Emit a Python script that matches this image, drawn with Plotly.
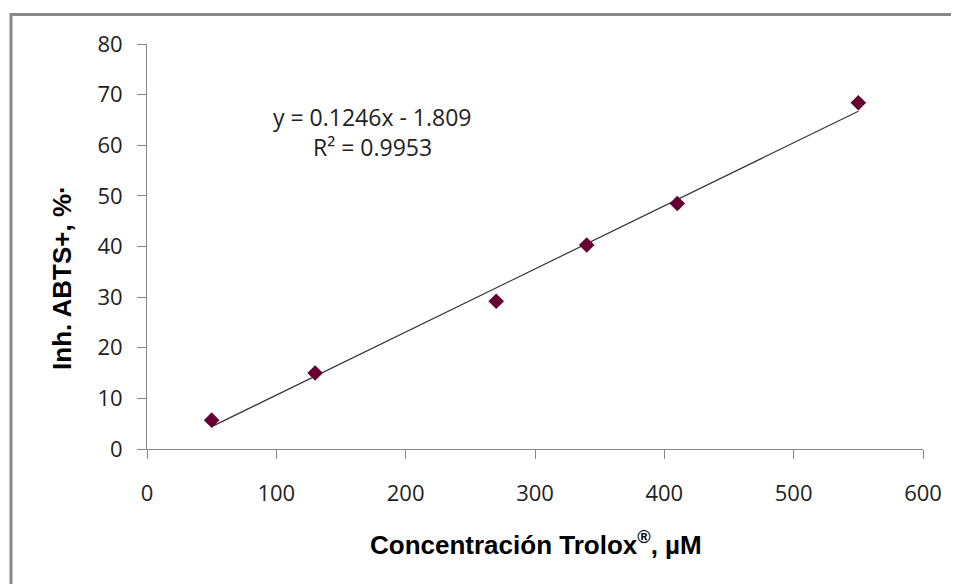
import plotly.graph_objects as go

# Data
trolox_uM = [50, 130, 270, 340, 410, 550]
inhibition_pct = [5.7, 15.0, 29.2, 40.3, 48.5, 68.4]
slope = 0.1246
intercept = -1.809
r_squared = 0.9953
x_ticks = [0, 100, 200, 300, 400, 500, 600]
y_ticks = [0, 10, 20, 30, 40, 50, 60, 70, 80]

trend_x = [min(trolox_uM), max(trolox_uM)]
trend_y = [slope * v + intercept for v in trend_x]

fig = go.Figure()
fig.add_trace(go.Scatter(
    x=trend_x, y=trend_y, mode="lines",
    line=dict(color="#333333", width=1.2), hoverinfo="skip", showlegend=False))
fig.add_trace(go.Scatter(
    x=trolox_uM, y=inhibition_pct, mode="markers",
    marker=dict(symbol="diamond", size=12, color="#660033"), showlegend=False))

tick_font = dict(family="Open Sans", size=22, color="#222222")
axis_line = "#868686"

fig.update_xaxes(range=[0, 600], tickvals=x_ticks, showgrid=False, zeroline=False,
                 showline=True, linecolor=axis_line, linewidth=1,
                 ticks="outside", ticklen=9, tickcolor=axis_line,
                 tickfont=tick_font, ticklabelstandoff=16)
fig.update_yaxes(range=[0, 80], tickvals=y_ticks, showgrid=False, zeroline=False,
                 showline=True, linecolor=axis_line, linewidth=1,
                 ticks="outside", ticklen=9, tickcolor=axis_line,
                 tickfont=tick_font, ticklabelstandoff=10)

OFF = 8  # page body margin
W, H = 959 - OFF, 584 - OFF
L, T = 147 - OFF, 43.5 - OFF
R = W - (923 - OFF)
B = H - (449.5 - OFF)
pw, ph = W - L - R, H - T - B

def px_x(p):
    return (p - OFF - L) / pw

def px_y(p):
    return (H - B - (p - OFF)) / ph

title_font = dict(family="Liberation Sans", size=26, color="#000000")
eq_font = dict(family="Open Sans", size=23, color="#222222")
fig.update_layout(
    width=W, height=H, margin=dict(l=L, r=R, t=T, b=B),
    paper_bgcolor="white", plot_bgcolor="white",
    shapes=[dict(type="rect", xref="paper", yref="paper",
                 x0=px_x(11), x1=px_x(1100), y0=px_y(700), y1=px_y(14),
                 line=dict(color="#888888", width=3), fillcolor="rgba(0,0,0,0)")],
    annotations=[
        dict(text="<b>Concentración Trolox<sup>®</sup>, µM</b>", xref="paper", yref="paper",
             x=px_x(536), y=px_y(544), showarrow=False, font=title_font,
             xanchor="center", yanchor="middle"),
        dict(text="<b>Inh. ABTS+, %·</b>", xref="paper", yref="paper",
             x=px_x(62), y=px_y(278), showarrow=False, font=title_font, textangle=-90,
             xanchor="center", yanchor="middle"),
        dict(text=f"y = {slope}x - {abs(intercept)}", xref="paper", yref="paper",
             x=px_x(372), y=px_y(117), showarrow=False, font=eq_font,
             xanchor="center", yanchor="middle"),
        dict(text=f"R² = {r_squared}", xref="paper", yref="paper",
             x=px_x(372), y=px_y(147), showarrow=False, font=eq_font,
             xanchor="center", yanchor="middle"),
    ],
)

fig.write_html("out.html")
